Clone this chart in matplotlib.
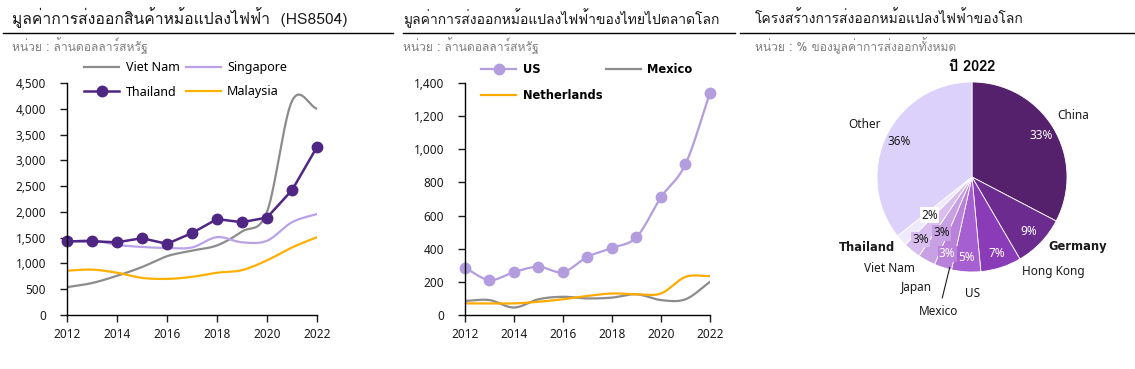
import numpy as np
import matplotlib
matplotlib.use("Agg")
from matplotlib import pyplot as plt
from matplotlib import font_manager as fm
from matplotlib.ft2font import FT2Font
from matplotlib.lines import Line2D

years = list(range(2012, 2023))

# left chart: exports of transformers (HS8504), million USD
viet_nam = [540, 620, 760, 930, 1140, 1250, 1350, 1620, 2000, 4150, 4000]
singapore = [1420, 1450, 1360, 1320, 1300, 1310, 1510, 1410, 1440, 1800, 1960]
thailand = [1430, 1430, 1410, 1490, 1380, 1590, 1860, 1800, 1890, 2420, 3260]
malaysia = [860, 880, 820, 720, 700, 740, 820, 870, 1060, 1310, 1510]

# middle chart: Thai exports to world markets, million USD
us = [285, 211, 259, 291, 259, 351, 405, 470, 711, 911, 1340]
mexico = [85, 90, 45, 95, 110, 100, 105, 125, 90, 95, 200]
netherlands = [70, 70, 70, 80, 95, 115, 130, 125, 130, 230, 235]

# right chart: world export structure 2022, %
pie_labels = ["China", "Germany", "Hong Kong", "US", "Mexico", "Japan",
              "Viet Nam", "Thailand", "Other"]
pie_values = [33, 9, 7, 5, 3, 3, 3, 2, 36]


def find_thai_font():
    for f in fm.fontManager.ttflist:
        try:
            if 0x0E01 in FT2Font(f.fname).get_charmap():
                return f.name
        except Exception:
            pass
    return None


thai_font = find_thai_font()
fams = ["Noto Sans"]
if thai_font:
    fams.append(thai_font)
fams.append("DejaVu Sans")
plt.rcParams["font.family"] = fams
thai_fams = ([thai_font] if thai_font else []) + ["Noto Sans", "DejaVu Sans"]
BOLD_FAM = ["DejaVu Sans"]


def smooth(x, y, n=20):
    # Catmull-Rom curve through the points, like Excel's smoothed line
    x = np.asarray(x, float)
    y = np.asarray(y, float)
    px = np.concatenate([[2 * x[0] - x[1]], x, [2 * x[-1] - x[-2]]])
    py = np.concatenate([[2 * y[0] - y[1]], y, [2 * y[-1] - y[-2]]])
    xs, ys = [], []
    t = np.linspace(0, 1, n, endpoint=False)
    for i in range(1, len(px) - 2):
        for p, out in ((px, xs), (py, ys)):
            p0, p1, p2, p3 = p[i - 1], p[i], p[i + 1], p[i + 2]
            out.extend(0.5 * ((2 * p1) + (-p0 + p2) * t
                              + (2 * p0 - 5 * p1 + 4 * p2 - p3) * t ** 2
                              + (-p0 + 3 * p1 - 3 * p2 + p3) * t ** 3))
    xs.append(x[-1])
    ys.append(y[-1])
    return xs, ys


W, H = 1135, 369
fig = plt.figure(figsize=(W / 100, H / 100), dpi=100)


def fx(px):
    return px / W


def fy(py):
    return 1 - py / H


def header(x0, x1, tx, title, sub, size):
    fig.text(fx(tx), fy(18), title, fontsize=size, color="#1a1a1a",
             va="center", ha="left", family=thai_fams)
    fig.add_artist(Line2D([fx(x0), fx(x1)], [fy(33), fy(33)], color="black", lw=1))
    fig.text(fx(tx), fy(46), sub, fontsize=8.7, color="#808080",
             va="center", ha="left", family=thai_fams)


def style_axes(ax, ymax, step):
    for s in ["top", "right"]:
        ax.spines[s].set_visible(False)
    ax.spines["left"].set_linewidth(1)
    ax.spines["bottom"].set_linewidth(1)
    ax.set_xlim(2012, 2022)
    ax.set_ylim(0, ymax)
    ax.set_xticks(range(2012, 2023, 2))
    ax.set_yticks(np.arange(0, ymax + 1, step))
    ax.yaxis.set_major_formatter(matplotlib.ticker.StrMethodFormatter("{x:,.0f}"))
    ax.tick_params(direction="out", length=5, width=1, labelsize=8.5,
                   colors="#1a1a1a", pad=4)
    ax.tick_params(axis="y", pad=10)
    ax.set_facecolor("none")


# ---- left chart
header(3, 393, 12, "มูลค่าการส่งออกสินค้าหม้อแปลงไฟฟ้า  (HS8504)",
       "หน่วย : ล้านดอลลาร์สหรัฐ", 11.3)
ax1 = fig.add_axes([fx(67), fy(315), fx(317 - 67), (315 - 83) / H])
style_axes(ax1, 4500, 500)
ax1.plot(*smooth(years, viet_nam), color="#8c8c8c", lw=1.6)
ax1.plot(*smooth(years, singapore), color="#b9a2e8", lw=1.6)
ax1.plot(*smooth(years, malaysia), color="#ffb000", lw=1.6)
ax1.plot(years, thailand, color="#4f2683", lw=1.8, marker="o", ms=7.5, clip_on=False)
h1 = [Line2D([], [], color="#8c8c8c", lw=1.6),
      Line2D([], [], color="#4f2683", lw=1.8, marker="o", ms=7.5),
      Line2D([], [], color="#b9a2e8", lw=1.6),
      Line2D([], [], color="#ffb000", lw=1.6)]
fig.legend(h1, ["Viet Nam", "Thailand", "Singapore", "Malaysia"], ncol=2,
           loc="upper left", bbox_to_anchor=(fx(73), fy(50)), frameon=False,
           fontsize=9, handlelength=2.8, columnspacing=0.5, labelspacing=0.9,
           handletextpad=0.5)

# ---- middle chart
header(403, 735, 403, "มูลค่าการส่งออกหม้อแปลงไฟฟ้าของไทยไปตลาดโลก",
       "หน่วย : ล้านดอลลาร์สหรัฐ", 10)
ax2 = fig.add_axes([fx(465), fy(315), fx(710 - 465), (315 - 83) / H])
style_axes(ax2, 1400, 200)
ax2.plot(*smooth(years, mexico), color="#8c8c8c", lw=1.6)
ax2.plot(*smooth(years, netherlands), color="#ffaa00", lw=1.6)
ax2.plot(*smooth(years, us), color="#b39ddf", lw=1.6)
ax2.plot(years, us, ls="none", color="#b39ddf", marker="o", ms=7.5, clip_on=False)
h2 = [Line2D([], [], color="#b39ddf", lw=1.6, marker="o", ms=7.5),
      Line2D([], [], color="#ffaa00", lw=1.6),
      Line2D([], [], color="#8c8c8c", lw=1.6)]
leg2 = fig.legend(h2, ["US", "Netherlands", "Mexico"], ncol=2,
                  loc="upper left", bbox_to_anchor=(fx(471), fy(53)), frameon=False,
                  prop=dict(family=BOLD_FAM, weight="bold", size=8.3),
                  handlelength=3.0, columnspacing=0.3, labelspacing=1.1,
                  handletextpad=0.6)

# ---- right chart
header(740, 1135, 755, "โครงสร้างการส่งออกหม้อแปลงไฟฟ้าของโลก",
       "หน่วย : % ของมูลค่าการส่งออกทั้งหมด", 10)
fig.text(fx(972), fy(67), "ปี 2022", fontsize=10.5, fontweight="bold",
         ha="center", va="center", family=thai_fams)
ax3 = fig.add_axes([fx(877), fy(272), fx(190), 190 / H])
pie_colors = ["#55216c", "#6b2b8f", "#8a3cb8", "#a55fd0", "#b981da",
              "#c8a0e4", "#d8bdee", "#efe9fc", "#dcd1fb"]
wedges, _ = ax3.pie(pie_values, colors=pie_colors, startangle=90, counterclock=False,
                    wedgeprops=dict(edgecolor="white", linewidth=0.6))
ax3.set_aspect("equal")
ax3.set_xlim(-1, 1)
ax3.set_ylim(-1, 1)

pct_dist = [0.85, 0.83, 0.85, 0.85, 0.85, 0.67, 0.85, 0.6, 0.85]
pct_color = ["white", "white", "white", "white", "white", "#1a1a1a",
             "#1a1a1a", "#1a1a1a", "#1a1a1a"]
pct_box = [None, None, None, None, "#b981da", "#c8a0e4", "#d8bdee", "white", None]
lab_dist = [1.25, 1.33, 1.31, 1.23, 1.46, 1.3, 1.3, 1.33, 1.26]
lab_shift = [0, 10.4, 23, 4, 4, 2, -3, -8, 0]
lab_bold = [False, True, False, False, False, False, False, True, False]
for i, w in enumerate(wedges):
    ang = np.deg2rad((w.theta1 + w.theta2) / 2)
    c, s = np.cos(ang), np.sin(ang)
    bb = None
    if pct_box[i]:
        bb = dict(boxstyle="square,pad=0.1", fc=pct_box[i], ec="none")
    ax3.text(pct_dist[i] * c, pct_dist[i] * s, f"{pie_values[i]}%", ha="center",
             va="center", fontsize=8.5, color=pct_color[i], bbox=bb)
    ang2 = ang + np.deg2rad(lab_shift[i])
    lx, ly = lab_dist[i] * np.cos(ang2), lab_dist[i] * np.sin(ang2)
    if lab_bold[i]:
        ax3.text(lx, ly, pie_labels[i], ha="center", va="center", fontsize=8.3,
                 color="#1a1a1a", fontweight="bold", family=BOLD_FAM, clip_on=False)
    else:
        ax3.text(lx, ly, pie_labels[i], ha="center", va="center", fontsize=8.5,
                 color="#1a1a1a", clip_on=False)
    if pie_labels[i] == "Mexico":
        ax3.plot([0.98 * np.cos(ang2), 1.31 * np.cos(ang2)],
                 [0.98 * np.sin(ang2), 1.31 * np.sin(ang2)],
                 color="#1a1a1a", lw=0.8, clip_on=False)

fig.savefig("out.png", dpi=100)
